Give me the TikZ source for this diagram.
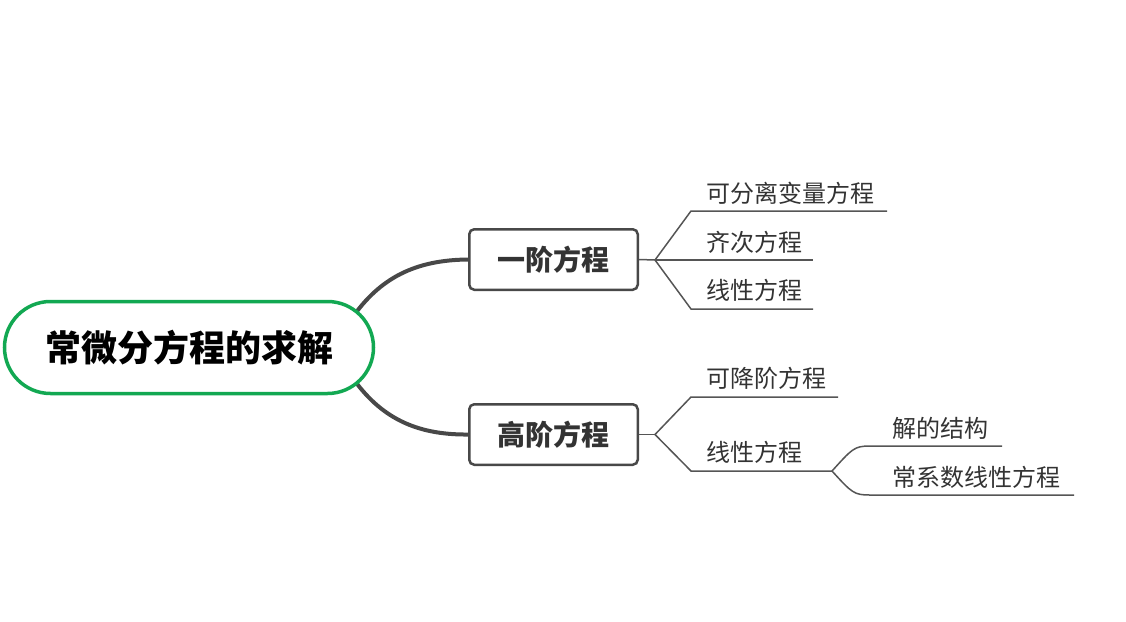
\documentclass[tikz,border=0pt]{standalone}
\usepackage{fontspec}
\setmainfont{Noto Sans CJK SC}
\newfontfamily\cjk{Noto Sans CJK SC}
\usetikzlibrary{calc}
\definecolor{rootgreen}{RGB}{18,168,82}
\definecolor{boxgray}{RGB}{72,72,72}
\definecolor{linegray}{RGB}{85,85,85}
\definecolor{txtgray}{RGB}{51,51,51}
\begin{document}
\begin{tikzpicture}[x=1pt,y=-1pt,
 rootbox/.style={draw=rootgreen, line width=3.5pt, fill=white, rounded corners=46pt, minimum width=369pt, minimum height=92pt, inner sep=0pt, font=\cjk\bfseries\fontsize{36}{40}\selectfont, text=black},
 topicbox/.style={draw=boxgray, line width=2.5pt, fill=white, rounded corners=5pt, minimum width=168.5pt, minimum height=60.5pt, inner sep=0pt, font=\cjk\bfseries\fontsize{28}{32}\selectfont, text=txtgray},
 leaf/.style={anchor=west, inner sep=0pt, font=\cjk\fontsize{24}{28}\selectfont, text=txtgray},
 mainlink/.style={draw=boxgray, line width=4pt},
 sublink/.style={draw=linegray, line width=1.5pt}]
\useasboundingbox (0,0) rectangle (1126,621);

% main curves (drawn under root)
\coordinate (c1s) at (352,318);
\coordinate (c2s) at (352,377);
\node[topicbox] (b1) at (553.5,259.5) {一阶方程};
\node[topicbox] (b2) at (553.5,434.5) {高阶方程};
\draw[mainlink] (c1s) .. controls (380,278) and (415,260) .. (b1.west);
\draw[mainlink] (c2s) .. controls (380,417) and (415,435) .. (b2.west);
\node[rootbox] (root) at (189,347.5) {常微分方程的求解};

% first-order branch
\coordinate (j1) at (655,260);
\coordinate (a1) at (691,211); \coordinate (e1) at (887,211);
\coordinate (a2) at (691,260); \coordinate (e2) at (813,260);
\coordinate (a3) at (691,309); \coordinate (e3) at (813,309);
\node[leaf] (t1) at (706,193) {可分离变量方程};
\node[leaf] (t2) at (706,242) {齐次方程};
\node[leaf] (t3) at (706,290) {线性方程};
\draw[sublink] (b1.east) -- (j1);
\draw[sublink] (j1) -- (a1) -- (e1);
\draw[sublink] (j1) -- (a2) -- (e2);
\draw[sublink] (j1) -- (a3) -- (e3);

% higher-order branch
\coordinate (j2) at (655,434.5);
\coordinate (a4) at (691,397); \coordinate (e4) at (838,397);
\coordinate (a5) at (691,471); \coordinate (j3) at (832,471);
\node[leaf] (t4) at (706,378) {可降阶方程};
\node[leaf] (t5) at (706,452) {线性方程};
\draw[sublink] (b2.east) -- (j2);
\draw[sublink] (j2) -- (a4) -- (e4);
\draw[sublink] (j2) -- (a5) -- (j3);

% linear equations sub-branch
\coordinate (a6) at (870,446); \coordinate (e6) at (1002,446);
\coordinate (a7) at (870,495); \coordinate (e7) at (1074,495);
\node[leaf] (t6) at (892,428) {解的结构};
\node[leaf] (t7) at (892,477) {常系数线性方程};
\draw[sublink] (j3) .. controls (852,449) and (854,446) .. (a6) -- (e6);
\draw[sublink] (j3) .. controls (852,493) and (854,495) .. (a7) -- (e7);
\end{tikzpicture}
\end{document}
